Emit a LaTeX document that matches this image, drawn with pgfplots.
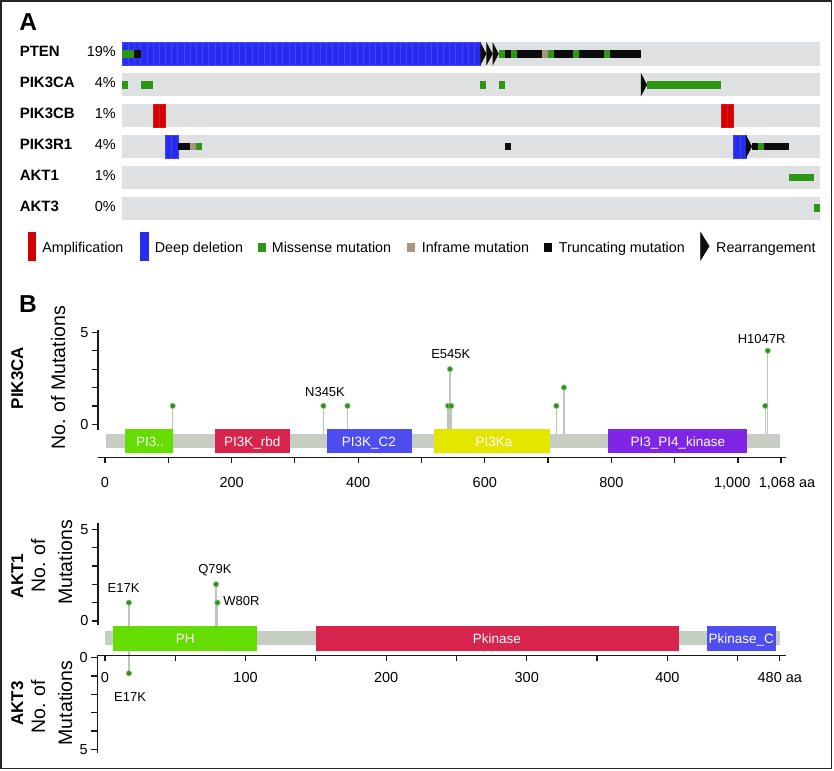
\documentclass[border=0pt]{standalone}
\usepackage{pgfplots}
\pgfplotsset{compat=1.18}
\usepackage{pgfplotstable}
\usepackage{fontspec}
\setmainfont{Liberation Sans}

\definecolor{ongray}{RGB}{222,224,225}
\definecolor{delblue}{RGB}{40,44,240}
\definecolor{ampred}{RGB}{210,0,0}
\definecolor{misgreen}{RGB}{45,150,20}
\definecolor{inftan}{RGB}{170,150,128}
\definecolor{trunc}{RGB}{12,12,12}
\definecolor{bbone}{RGB}{198,206,195}
\definecolor{stick}{RGB}{188,198,185}
\definecolor{dotg}{RGB}{50,145,25}
\definecolor{dgreen}{RGB}{102,221,0}
\definecolor{dred}{RGB}{214,36,76}
\definecolor{dblue}{RGB}{78,78,240}
\definecolor{dyellow}{RGB}{228,230,0}
\definecolor{dpurple}{RGB}{127,38,230}
\definecolor{axcol}{RGB}{25,25,25}

\newcommand\fsz[1]{\fontsize{#1}{#1}\selectfont}

% oncoprint cells, sizes in pt (1pt = 1px of the target)
\pgfdeclareplotmark{rowbg}{\pgfpathrectangle{\pgfpoint{-349pt}{-11.75pt}}{\pgfpoint{698pt}{23.5pt}}\pgfusepathqfill}
\pgfdeclareplotmark{cfull}{\pgfpathrectangle{\pgfpoint{-3.1pt}{-11.75pt}}{\pgfpoint{6.2pt}{23.5pt}}\pgfusepathqfillstroke}
\pgfdeclareplotmark{csmall}{\pgfpathrectangle{\pgfpoint{-3.1pt}{-3.85pt}}{\pgfpoint{6.2pt}{7.7pt}}\pgfusepathqfill}
\pgfdeclareplotmark{rearr}{\pgfpathmoveto{\pgfpoint{-3.1pt}{-11.75pt}}\pgfpathlineto{\pgfpoint{3.1pt}{0pt}}\pgfpathlineto{\pgfpoint{-3.1pt}{11.75pt}}\pgfpathclose\pgfusepathqfill}

\tikzset{
  domlab/.style={font=\fsz{13.5}, text=white, inner sep=0pt, anchor=base},
  mutlab/.style={font=\fsz{13}, inner sep=0pt},
}
\pgfplotsset{
  lolli/.style={scale only axis, anchor=south west, tick align=outside,
    major tick length=6pt, minor tick length=6pt,
    tick style={axcol, line width=1.2pt}, axis line style={axcol, line width=1.2pt},
    tick label style={font=\fsz{14.5}}},
  lolliaxis/.style={lolli, axis x line*=bottom, axis y line*=left, clip=false,
    ytick={0,5}, yticklabels={0,5}, minor ytick={1,2,3,4}},
  stickplot/.style={only marks, mark=*, mark size=0pt, mark options={draw=none,fill=none}, forget plot,
    error bars/.cd, y dir=minus, y explicit, error mark=none,
    error bar style={stick, line width=1.4pt}},
  dotplot/.style={only marks, mark=*, mark size=2.7pt, forget plot,
    mark options={fill=dotg, draw=dotg!55!white, line width=0.6pt}},
  dom/.style={draw=none, forget plot, fill=#1},
}

\pgfplotstableread{
aa n
107 1
345 1
383 1
542 1
545 3
547 1
713 1
725 2
1043 1
1047 4
}\pikdata

\pgfplotstableread{
aa n
17 1
79 2
80 1
}\aktone

\pgfplotstableread{
aa n
17 0.85
}\aktthree

\begin{document}
\begin{tikzpicture}
\useasboundingbox (0,0) rectangle (834pt,770pt);

% ---------------- A: oncoprint ----------------
\node[anchor=base west, inner sep=0pt, font=\bfseries\fsz{24.5}] at (19.3pt,739.3pt) {A};

\begin{axis}[at={(122pt,546.2pt)}, anchor=south west, scale only axis,
  width=698pt, height=185.4pt,
  xmin=-0.5, xmax=112.5, ymin=-0.5, ymax=5.5, y dir=reverse,
  clip=false, axis line style={draw=none}, tick style={draw=none},
  xtick=\empty, ytick={0,1,2,3,4,5}, major tick length=0pt,
  yticklabels={
    {\makebox[96pt][s]{\bfseries\fsz{15}PTEN\hfill\mdseries\fsz{14.5}19\%}},
    {\makebox[96pt][s]{\bfseries\fsz{15}PIK3CA\hfill\mdseries\fsz{14.5}4\%}},
    {\makebox[96pt][s]{\bfseries\fsz{15}PIK3CB\hfill\mdseries\fsz{14.5}1\%}},
    {\makebox[96pt][s]{\bfseries\fsz{15}PIK3R1\hfill\mdseries\fsz{14.5}4\%}},
    {\makebox[96pt][s]{\bfseries\fsz{15}AKT1\hfill\mdseries\fsz{14.5}1\%}},
    {\makebox[96pt][s]{\bfseries\fsz{15}AKT3\hfill\mdseries\fsz{14.5}0\%}}},
  yticklabel style={anchor=east, inner sep=0pt, xshift=-6pt, yshift=2pt},
  legend columns=-1,
  legend style={at={(-0.13424,-0.15372)}, anchor=west, draw=none, fill=none,
    inner sep=0pt, outer sep=0pt, font=\fsz{14.3},
    nodes={inner sep=0pt, outer sep=0pt, text height=20pt, text depth=20pt}},
]
\addlegendimage{legend image code/.code={\fill[ampred] (0pt,-7.7pt) rectangle (6.7pt,20pt); \path (13.7pt,0pt);}}
\addlegendentry{\makebox[98pt][l]{Amplification}}
\addlegendimage{legend image code/.code={\fill[delblue] (0pt,-7.7pt) rectangle (7.3pt,20pt); \path (14pt,0pt);}}
\addlegendentry{\makebox[103.7pt][l]{Deep deletion}}
\addlegendimage{legend image code/.code={\fill[misgreen] (0pt,1.3pt) rectangle (6.6pt,9pt); \path (13pt,0pt);}}
\addlegendentry{\makebox[135.2pt][l]{Missense mutation}}
\addlegendimage{legend image code/.code={\fill[inftan] (0pt,1.3pt) rectangle (6.9pt,9pt); \path (14.3pt,0pt);}}
\addlegendentry{\makebox[122.4pt][l]{Inframe mutation}}
\addlegendimage{legend image code/.code={\fill[trunc] (0pt,1.3pt) rectangle (6.4pt,9pt); \path (14.4pt,0pt);}}
\addlegendentry{\makebox[141.4pt][l]{Truncating mutation}}
\addlegendimage{legend image code/.code={\fill[trunc] (0pt,-7.7pt) -- (8.6pt,6.15pt) -- (0pt,20pt) -- cycle; \path (15.4pt,0pt);}}
\addlegendentry{Rearrangement}

% grey row background (column = x, gene row = y)
\addplot[only marks, mark=rowbg, color=ongray, forget plot]
  coordinates {(56,0) (56,1) (56,2) (56,3) (56,4) (56,5)};
% deep deletion
\addplot[only marks, mark=cfull, color=delblue, forget plot,
  mark options={fill=delblue, draw=delblue!88!white, line width=0.2pt}]
  coordinates {(0,0) (1,0) (2,0) (3,0) (4,0) (5,0) (6,0) (7,0) (8,0) (9,0)
   (10,0) (11,0) (12,0) (13,0) (14,0) (15,0) (16,0) (17,0) (18,0) (19,0)
   (20,0) (21,0) (22,0) (23,0) (24,0) (25,0) (26,0) (27,0) (28,0) (29,0)
   (30,0) (31,0) (32,0) (33,0) (34,0) (35,0) (36,0) (37,0) (38,0) (39,0)
   (40,0) (41,0) (42,0) (43,0) (44,0) (45,0) (46,0) (47,0) (48,0) (49,0)
   (50,0) (51,0) (52,0) (53,0) (54,0) (55,0) (56,0) (57,0)
   (7,3) (8,3) (99,3) (100,3)};
% amplification
\addplot[only marks, mark=cfull, color=ampred, forget plot,
  mark options={fill=ampred, draw=ampred!90!white, line width=0.2pt}]
  coordinates {(5,2) (6,2) (97,2) (98,2)};
% missense
\addplot[only marks, mark=csmall, color=misgreen, forget plot]
  coordinates {(0,0) (1,0) (61,0) (63,0) (69,0) (73,0) (78,0)
   (0,1) (3,1) (4,1) (58,1) (61,1) (85,1) (86,1) (87,1) (88,1) (89,1) (90,1)
   (91,1) (92,1) (93,1) (94,1) (95,1) (96,1)
   (12,3) (103,3) (108,4) (109,4) (110,4) (111,4) (112,5)};
% truncating
\addplot[only marks, mark=csmall, color=trunc, forget plot]
  coordinates {(2,0) (62,0) (64,0) (65,0) (66,0) (67,0) (70,0) (71,0) (72,0)
   (74,0) (75,0) (76,0) (77,0) (79,0) (80,0) (81,0) (82,0) (83,0)
   (9,3) (10,3) (62,3) (102,3) (104,3) (105,3) (106,3) (107,3)};
% inframe
\addplot[only marks, mark=csmall, color=inftan, forget plot]
  coordinates {(68,0) (11,3)};
% rearrangement
\addplot[only marks, mark=rearr, color=trunc, forget plot]
  coordinates {(58,0) (59,0) (60,0) (84,1) (101,3)};
\end{axis}

% ---------------- B: lollipops ----------------
\node[anchor=base west, inner sep=0pt, font=\bfseries\fsz{24.5}] at (19pt,457.3pt) {B};

% PIK3CA
\node[rotate=90, anchor=base, font=\bfseries\fsz{17}] at (23pt,392pt) {PIK3CA};
\node[rotate=90, anchor=base, font=\fsz{19.5}] at (65pt,392pt) {No. of Mutations};

\begin{axis}[lolliaxis, at={(98pt,312.7pt)}, width=687.7pt, height=127.2pt,
  xmin=-11.06, xmax=1075.4, ymin=-1.793, ymax=5.12,
  y axis line style={shorten <=27.3pt},
  xtick={0,200,400,600,800,1000,1068},
  xticklabels={0,200,400,600,800,{1,000\hspace*{11.4pt}},{\hspace*{12pt}1,068 aa}},
  xticklabel style={yshift=-10.5pt},
  minor xtick={100,300,500,700,900}]
\addplot[stickplot] table[x=aa, y=n, y error minus expr={\thisrow{n}+0.9}] {\pikdata};
\addplot[dotplot] table[x=aa, y=n] {\pikdata};
\addplot[dom=bbone] coordinates {(1,-0.543) (1067,-0.543) (1067,-1.304) (1,-1.304)};
\addplot[dom=dgreen] coordinates {(32,-0.255) (108,-0.255) (108,-1.576) (32,-1.576)};
\addplot[dom=dred] coordinates {(174,-0.255) (292,-0.255) (292,-1.576) (174,-1.576)};
\addplot[dom=dblue] coordinates {(350,-0.255) (485,-0.255) (485,-1.576) (350,-1.576)};
\addplot[dom=dyellow] coordinates {(519,-0.255) (703,-0.255) (703,-1.576) (519,-1.576)};
\addplot[dom=dpurple] coordinates {(795,-0.255) (1014,-0.255) (1014,-1.576) (795,-1.576)};
\node[domlab] at (axis cs:71.1,-1.18) {PI3..};
\node[domlab] at (axis cs:232.7,-1.18) {PI3K\_rbd};
\node[domlab] at (axis cs:417,-1.18) {PI3K\_C2};
\node[domlab] at (axis cs:614.5,-1.18) {PI3Ka};
\node[domlab] at (axis cs:904.9,-1.18) {PI3\_PI4\_kinase};
\node[mutlab] at (axis cs:347.6,1.78) {N345K};
\node[mutlab] at (axis cs:546.3,3.83) {E545K};
\node[mutlab] at (axis cs:1037.4,4.65) {H1047R};
\end{axis}

% AKT3 (drawn downward, below the shared AKT axis)
\node[rotate=90, anchor=base, font=\bfseries\fsz{17}] at (23pt,66.5pt) {AKT3};
\node[rotate=90, anchor=base, font=\fsz{19.5}] at (45pt,63.3pt) {No. of};
\node[rotate=90, anchor=base, font=\fsz{19.5}] at (72pt,67pt) {Mutations};

\begin{axis}[lolli, at={(97.3pt,16.7pt)}, width=688.8pt, height=98.3pt,
  xmin=-5.48, xmax=484.4, ymin=-0.147, ymax=5.215, y dir=reverse,
  axis y line*=left, axis x line=none, clip=false,
  ytick={0,5}, yticklabels={0,5}, minor ytick={1,2,3,4}]
\addplot[stickplot] table[x=aa, y=n, y error minus expr={\thisrow{n}+0.69}] {\aktthree};
\addplot[dotplot] table[x=aa, y=n] {\aktthree};
\node[mutlab] at (axis cs:17.8,2.14) {E17K};
\end{axis}

% AKT1
\node[rotate=90, anchor=base, font=\bfseries\fsz{17}] at (23pt,194pt) {AKT1};
\node[rotate=90, anchor=base, font=\fsz{19.5}] at (45pt,204.2pt) {No. of};
\node[rotate=90, anchor=base, font=\fsz{19.5}] at (72pt,207.5pt) {Mutations};

\begin{axis}[lolliaxis, at={(98pt,114.5pt)}, width=688pt, height=132.2pt,
  xmin=-4.98, xmax=484.4, ymin=-1.882, ymax=5.33,
  y axis line style={shorten <=30.5pt},
  xtick={0,100,200,300,400,480},
  xticklabels={0,100,200,300,400,480 aa},
  xticklabel style={yshift=-7.3pt},
  minor xtick={50,150,250,350,450}]
\addplot[stickplot] table[x=aa, y=n, y error minus expr={\thisrow{n}+0.9}] {\aktone};
\addplot[dotplot] table[x=aa, y=n] {\aktone};
\addplot[dom=bbone] coordinates {(0,-0.546) (480,-0.546) (480,-1.309) (0,-1.309)};
\addplot[dom=dgreen] coordinates {(6,-0.273) (108,-0.273) (108,-1.62) (6,-1.62)};
\addplot[dom=dred] coordinates {(150,-0.273) (408,-0.273) (408,-1.62) (150,-1.62)};
\addplot[dom=dblue] coordinates {(428,-0.273) (477,-0.273) (477,-1.62) (428,-1.62)};
\node[domlab] at (axis cs:57.1,-1.21) {PH};
\node[domlab] at (axis cs:278.8,-1.21) {Pkinase};
\node[domlab] at (axis cs:452.6,-1.21) {Pkinase\_C};
\node[mutlab] at (axis cs:13.2,1.80) {E17K};
\node[mutlab] at (axis cs:78.2,2.78) {Q79K};
\node[mutlab, anchor=west] at (axis cs:84.1,1.09) {W80R};
\end{axis}

\draw[line width=1.4pt, black!85] (1pt,1.7pt) rectangle (831.7pt,769pt);
\end{tikzpicture}
\end{document}
